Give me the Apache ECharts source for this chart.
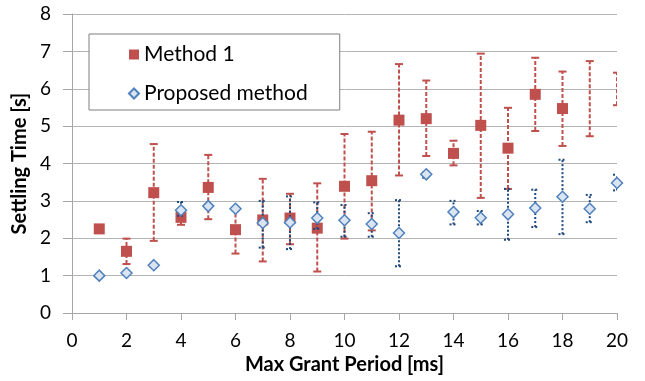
<!DOCTYPE html>
<html>
<head>
<meta charset="utf-8">
<script src="https://cdn.jsdelivr.net/npm/echarts@6/dist/echarts.min.js"></script>
<style>
html,body{margin:0;padding:0;background:#fff;}
#chart{width:645px;height:381px;}
</style>
</head>
<body>
<div id="chart"></div>
<script>
// Max Grant Period [ms]
var periods = [1,2,3,4,5,6,7,8,9,10,11,12,13,14,15,16,17,18,19,20];
// Method 1 settling time mean and error range [s]
var method1     = [2.25,1.65,3.22,2.56,3.36,2.23,2.49,2.54,2.27,3.39,3.54,5.16,5.20,4.27,5.02,4.41,5.85,5.47,null,null];
var method1Low  = [null,1.31,1.93,2.36,2.51,1.59,1.38,1.84,1.11,1.99,2.21,3.68,4.20,3.95,3.08,3.32,4.87,4.47,4.73,5.56];
var method1High = [null,1.99,4.52,2.72,4.23,2.75,3.59,3.19,3.47,4.79,4.85,6.66,6.22,4.61,6.94,5.49,6.83,6.46,6.74,6.43];
// Proposed method settling time mean and error range [s]
var proposed     = [1.00,1.07,1.28,2.75,2.86,2.79,2.41,2.42,2.54,2.48,2.38,2.14,3.71,2.70,2.55,2.64,2.81,3.11,2.79,3.48];
var proposedLow  = [null,null,null,2.60,null,null,1.75,1.71,2.25,2.04,2.04,1.25,3.62,2.37,2.37,1.96,2.30,2.11,2.43,3.28];
var proposedHigh = [null,null,null,2.97,null,null,3.00,3.12,2.96,2.89,2.67,3.02,3.76,3.00,2.73,3.32,3.30,4.10,3.16,3.70];
// Axis ticks
var xTicks = {min:0, max:20, interval:2};
var yTicks = {min:0, max:8, interval:1};

var FONT = 'Lato';
function pts(vals){ var out=[]; for(var i=0;i<periods.length;i++){ if(vals[i]!=null) out.push([periods[i], vals[i]]);} return out; }
function bars(lo, hi){ var out=[]; for(var i=0;i<periods.length;i++){ if(lo[i]!=null && hi[i]!=null) out.push([periods[i], lo[i], hi[i]]);} return out; }

function errRender(color, dash, capDash){
  return function(params, api){
    var x = api.value(0), lo = api.value(1), hi = api.value(2);
    var a = api.coord([x, lo]), b = api.coord([x, hi]);
    var hw = 4;
    return {type:'group', children:[
      {type:'line', shape:{x1:a[0], y1:a[1], x2:b[0], y2:b[1]}, style:{stroke:color, lineWidth:2, lineDash:dash}},
      {type:'line', shape:{x1:a[0]-hw, y1:a[1], x2:a[0]+hw, y2:a[1]}, style:{stroke:color, lineWidth:2, lineDash:capDash}},
      {type:'line', shape:{x1:b[0]-hw, y1:b[1], x2:b[0]+hw, y2:b[1]}, style:{stroke:color, lineWidth:2, lineDash:capDash}}
    ]};
  };
}

var chart = echarts.init(document.getElementById('chart'), null, {renderer:'canvas'});
chart.setOption({
  animation:false,
  backgroundColor:'#ffffff',
  textStyle:{fontFamily:FONT},
  grid:{left:72, right:28, top:14, bottom:68, containLabel:false},
  legend:{
    orient:'vertical', left:89, top:34,
    padding:[10,32,6,39],
    itemGap:18, itemWidth:10, itemHeight:10,
    borderColor:'#7f7f7f', borderWidth:1, backgroundColor:'#ffffff',
    textStyle:{fontFamily:FONT, fontSize:21, color:'#000', lineHeight:21},
    data:['Method 1','Proposed method']
  },
  xAxis:{
    type:'value', min:xTicks.min, max:xTicks.max, interval:xTicks.interval,
    name:'Max Grant Period [ms]', nameLocation:'middle', nameGap:42,
    nameTextStyle:{fontFamily:FONT, fontSize:20, fontWeight:'bold', color:'#000'},
    axisLine:{show:true, lineStyle:{color:'#a6a6a6', width:1}},
    axisTick:{show:true, length:7, lineStyle:{color:'#a6a6a6'}},
    axisLabel:{fontFamily:FONT, fontSize:19, color:'#000', margin:18},
    splitLine:{show:false}
  },
  yAxis:{
    type:'value', min:yTicks.min, max:yTicks.max, interval:yTicks.interval,
    name:'Settling Time [s]', nameLocation:'middle', nameGap:36,
    nameTextStyle:{fontFamily:FONT, fontSize:20, fontWeight:'bold', color:'#000'},
    axisLine:{show:true, lineStyle:{color:'#a6a6a6', width:1}},
    axisTick:{show:true, length:9, lineStyle:{color:'#a6a6a6'}},
    axisLabel:{fontFamily:FONT, fontSize:19, color:'#000', margin:21},
    splitLine:{show:true, lineStyle:{color:'#b4b4b4', width:1}}
  },
  series:[
    {
      name:'Method 1 error', type:'custom', z:1, clip:true,
      renderItem: errRender('#c0504d', [4,2], null),
      encode:{x:0, y:[1,2]},
      data: bars(method1Low, method1High),
      silent:true
    },
    {
      name:'Method 1', type:'scatter', z:2,
      symbol:'rect', symbolSize:11,
      itemStyle:{color:'#c0504d', opacity:1},
      data: pts(method1)
    },
    {
      name:'Proposed error', type:'custom', z:3, clip:true,
      renderItem: errRender('#1f497d', [2,2], [2,2]),
      encode:{x:0, y:[1,2]},
      data: bars(proposedLow, proposedHigh),
      silent:true
    },
    {
      name:'Proposed method', type:'scatter', z:4,
      symbol:'diamond', symbolSize:11,
      itemStyle:{color:'#dbe5f1', borderColor:'#4f81bd', borderWidth:1.5, opacity:1},
      data: pts(proposed)
    }
  ]
});
</script>
</body>
</html>
